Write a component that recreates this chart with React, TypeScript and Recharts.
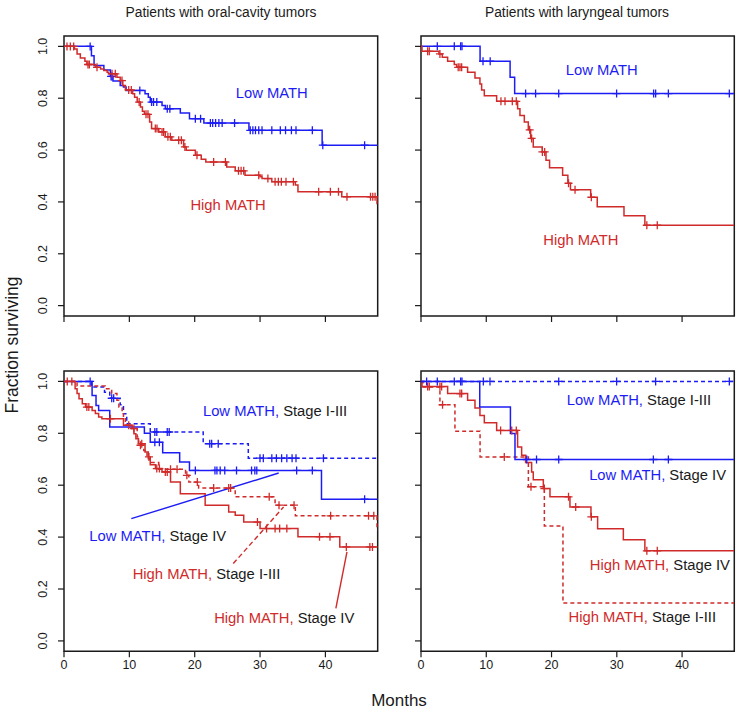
import React from 'react';
import {
  ComposedChart,
  Line,
  Scatter,
  XAxis,
  YAxis,
  ReferenceArea,
  ReferenceLine,
  ReferenceDot,
} from 'recharts';

const BLUE = '#1c1cf5';
const RED = '#d02a2a';
const INK = '#1a1a1a';
const FONT = '"Liberation Sans", Arial, Helvetica, sans-serif';

const monthTicks = [0, 10, 20, 30, 40];
const survTicks = [0, 0.2, 0.4, 0.6, 0.8, 1.0];

type Step = [number, number];

// Oral cavity, all stages
const oralLowSteps: Step[] = [
  [0, 1], [4.2, 0.964], [4.6, 0.926], [6.1, 0.909], [7.1, 0.884], [7.5, 0.866], [8.6, 0.849],
  [9.1, 0.843], [9.5, 0.83], [12.4, 0.817], [12.9, 0.804], [13.2, 0.785], [15.0, 0.772],
  [15.5, 0.759], [17.8, 0.743], [19.2, 0.721], [21.4, 0.704], [28.3, 0.676], [39.5, 0.619], [48, 0.619],
];
const oralLowCensor = [
  4.0, 7.2, 7.35, 11.6, 13.4, 13.7, 14.2, 15.8, 16.2, 20.1, 20.9, 22.4, 22.75, 23.2, 23.7, 24.2,
  26.1, 28.5, 28.9, 29.3, 29.8, 30.3, 31.8, 33.1, 33.9, 34.8, 35.5, 38.0, 39.6, 46.0,
];
const oralHighSteps: Step[] = [
  [0, 1], [1.6, 0.99], [2.0, 0.971], [2.5, 0.955], [3.2, 0.943], [3.5, 0.93], [4.8, 0.919],
  [5.6, 0.913], [6.1, 0.907], [6.6, 0.9], [6.8, 0.894], [8.1, 0.881], [8.6, 0.868], [9.0, 0.849],
  [9.4, 0.832], [10.5, 0.817], [10.8, 0.804], [11.2, 0.785], [11.7, 0.766], [12.0, 0.75],
  [12.3, 0.738], [13.1, 0.708], [13.4, 0.683], [14.5, 0.67], [15.5, 0.651], [16.5, 0.638],
  [18.3, 0.612], [18.7, 0.599], [20.1, 0.58], [21.0, 0.565], [21.7, 0.554], [24.9, 0.535],
  [26.2, 0.52], [27.7, 0.503], [30.0, 0.497], [30.3, 0.49], [31.8, 0.478], [35.4, 0.465],
  [35.8, 0.439], [42.5, 0.42], [47.9, 0.394], [48, 0.394],
];
const oralHighCensor = [
  0.46, 0.97, 1.48, 3.67, 3.88, 5.05, 7.35, 7.85, 8.87, 9.9, 10.3, 11.5, 12.55, 12.85, 13.97,
  14.23, 15.0, 15.25, 15.9, 16.27, 17.55, 17.96, 18.5, 20.35, 22.9, 24.7, 26.7, 27.1, 27.5, 29.8,
  31.2, 32.3, 32.8, 33.26, 33.97, 35.1, 38.97, 40.76, 42.0, 43.3, 46.9, 47.25, 47.6,
];

// Larynx, all stages
const larLowSteps: Step[] = [[0, 1], [9.05, 0.943], [13.65, 0.881], [14.35, 0.818], [48, 0.818]];
const larLowCensor = [2.5, 5.1, 6.07, 6.28, 9.5, 10.6, 16.03, 17.56, 21.1, 29.97, 35.64, 35.95, 37.9, 47.24];
const larHighSteps: Step[] = [
  [0, 1], [0.15, 0.981], [2.75, 0.971], [3.26, 0.958], [4.08, 0.943], [5.1, 0.93], [5.46, 0.919],
  [7.14, 0.9], [8.27, 0.878], [9.03, 0.855], [9.29, 0.832], [9.7, 0.81], [11.59, 0.788],
  [14.8, 0.759], [15.16, 0.733], [15.83, 0.708], [16.44, 0.678], [16.8, 0.645], [17.2, 0.612],
  [18.58, 0.593], [19.15, 0.561], [19.7, 0.532], [21.7, 0.503], [22.5, 0.472], [22.9, 0.447],
  [26.0, 0.418], [27.0, 0.381], [31.1, 0.347], [34.3, 0.31], [48, 0.31],
];
const larHighCensor = [
  1.02, 1.27, 2.9, 5.7, 5.97, 6.23, 12.25, 12.87, 13.99, 14.6, 16.65, 16.95, 18.6, 18.95, 22.6,
  23.6, 26.1, 34.6, 36.2,
];

// Oral cavity, by stage
const oralLowEarlySteps: Step[] = [
  [0, 1], [4.2, 0.978], [6.2, 0.958], [7.0, 0.935], [8.6, 0.91], [9.1, 0.875], [9.6, 0.837],
  [13.2, 0.805], [21.3, 0.76], [28.2, 0.704], [48, 0.704],
];
const oralLowEarlyCensor = [
  7.3, 7.6, 13.9, 14.2, 15.8, 16.1, 22.3, 22.6, 23.6, 29.99, 30.5, 31.8, 32.5, 33.3, 34.1, 34.9,
  35.5, 39.7,
];
const oralLowLateSteps: Step[] = [
  [0, 1], [4.3, 0.946], [4.9, 0.907], [5.3, 0.888], [7.0, 0.824], [12.3, 0.8], [13.2, 0.765],
  [15.1, 0.725], [17.7, 0.689], [19.2, 0.657], [39.4, 0.546], [48, 0.546],
];
const oralLowLateCensor = [
  4.0, 13.9, 14.6, 20.1, 23.1, 23.4, 23.9, 24.6, 26.4, 28.7, 29.2, 29.5, 35.6, 38.0, 46.0,
];
const oralHighEarlySteps: Step[] = [
  [0, 1], [2.0, 0.982], [6.3, 0.972], [7.3, 0.953], [8.1, 0.927], [8.4, 0.901], [8.9, 0.882],
  [9.1, 0.856], [9.4, 0.831], [10.4, 0.818], [11.2, 0.786], [11.4, 0.754], [12.2, 0.734],
  [12.7, 0.709], [13.2, 0.687], [14.5, 0.661], [18.6, 0.638], [19.1, 0.612], [20.6, 0.589],
  [26.2, 0.555], [32.3, 0.523], [35.4, 0.482], [47.9, 0.427], [48, 0.427],
];
const oralHighEarlyCensor = [
  0.5, 1.2, 10.7, 11.7, 13.0, 16.3, 17.3, 18.8, 20.4, 22.9, 25.2, 25.5, 31.4, 32.9, 35.2, 40.8,
  46.6, 47.4,
];
const oralHighLateSteps: Step[] = [
  [0, 1], [1.7, 0.972], [2.0, 0.953], [2.3, 0.933], [2.8, 0.914], [3.3, 0.901], [4.3, 0.888],
  [4.8, 0.876], [5.3, 0.863], [5.8, 0.856], [9.1, 0.831], [10.4, 0.818], [10.7, 0.798],
  [11.0, 0.779], [11.4, 0.76], [12.4, 0.728], [12.9, 0.702], [13.2, 0.679], [14.0, 0.664],
  [15.0, 0.651], [16.3, 0.612], [17.8, 0.567], [21.6, 0.523], [25.2, 0.497], [26.2, 0.484],
  [27.5, 0.458], [30.0, 0.433], [35.8, 0.401], [42.2, 0.362], [48, 0.362],
];
const oralHighLateCensor = [
  3.5, 3.8, 7.1, 9.9, 11.9, 14.2, 14.6, 15.5, 15.8, 29.6, 31.0, 32.3, 33.0, 34.1, 39.1, 40.7,
  43.2, 46.8, 47.2,
];

// Larynx, by stage
const larLowEarlySteps: Step[] = [[0, 1], [48, 1]];
const larLowEarlyCensor = [0.86, 2.5, 5.1, 6.07, 6.28, 9.55, 10.57, 21.1, 29.97, 35.95, 47.24];
const larLowLateSteps: Step[] = [[0, 1], [9.0, 0.901], [13.7, 0.799], [14.4, 0.699], [48, 0.699]];
const larLowLateCensor = [16.2, 17.7, 21.1, 35.6, 37.9];
const larHighEarlySteps: Step[] = [
  [0, 1], [0.3, 0.978], [2.9, 0.91], [5.2, 0.808], [9.05, 0.709], [16.45, 0.594], [18.9, 0.443],
  [21.75, 0.146], [48, 0.146],
];
const larHighEarlyCensor = [3.3, 12.76, 16.85];
const larHighLateSteps: Step[] = [
  [0, 1], [0.15, 0.98], [4.08, 0.953], [7.14, 0.927], [8.27, 0.897], [9.03, 0.869], [9.7, 0.841],
  [11.59, 0.811], [14.8, 0.747], [15.42, 0.715], [16.03, 0.687], [16.95, 0.651], [17.2, 0.621],
  [18.74, 0.587], [19.76, 0.555], [22.82, 0.516], [26.04, 0.478], [27.06, 0.432], [31.0, 0.39],
  [34.3, 0.347], [48, 0.347],
];
const larHighLateCensor = [
  1.02, 1.27, 2.9, 3.16, 5.97, 6.23, 12.2, 13.9, 14.6, 18.9, 22.6, 23.7, 26.1, 34.6, 36.2,
];

type Curve = { steps: Step[]; censor: number[]; color: string; dashed?: boolean };
type Part = { text: string; color: string };
type CurveLabel = { x: number; y: number; parts: Part[] };
type Leader = { from: [number, number]; to: [number, number]; color: string; dashed?: boolean };

function levelAt(steps: Step[], t: number) {
  let v = steps[0][1];
  for (const [x, y] of steps) {
    if (x <= t) v = y;
    else break;
  }
  return v;
}

const XTick = (p: any) => (
  <text x={p.x} y={p.y} dy={10} textAnchor="middle" fontSize={12.5} fill={INK} fontFamily={FONT}>
    {p.payload.value}
  </text>
);
const YTick = (p: any) => (
  <text
    x={p.x}
    y={p.y}
    transform={`rotate(-90 ${p.x} ${p.y})`}
    textAnchor="middle"
    fontSize={12.5}
    fill={INK}
    fontFamily={FONT}
  >
    {Number(p.payload.value).toFixed(1)}
  </text>
);
const NoTick = () => <g />;

const censorMark = (color: string) => (p: any) => (
  <g stroke={color} strokeWidth={1.3}>
    <line x1={p.cx} x2={p.cx} y1={p.cy - 4} y2={p.cy + 4} />
    <line x1={p.cx - 4} x2={p.cx + 4} y1={p.cy} y2={p.cy} />
  </g>
);

const textMark = (parts: Part[]) => (p: any) => (
  <text x={p.cx} y={p.cy} dy="0.36em" textAnchor="middle" fontSize={14.8} fontFamily={FONT}>
    {parts.map((pt, i) => (
      <tspan key={i} fill={pt.color}>
        {pt.text}
      </tspan>
    ))}
  </text>
);

type Box = { x: number; y: number; w: number; h: number };

function Panel({
  box,
  curves,
  labels,
  leaders = [],
  xLabels,
  yLabels,
}: {
  box: Box;
  curves: Curve[];
  labels: CurveLabel[];
  leaders?: Leader[];
  xLabels: boolean;
  yLabels: boolean;
}) {
  const W = 50 + box.w + 5;
  const H = 5 + box.h + 30;
  return (
    <div style={{ position: 'absolute', left: box.x - 50, top: box.y - 5 }}>
      <ComposedChart width={W} height={H} margin={{ top: 5, right: 5, bottom: 0, left: 0 }}>
        <XAxis
          type="number"
          dataKey="x"
          domain={[0, 48]}
          ticks={monthTicks}
          allowDataOverflow
          axisLine={false}
          tickLine={{ stroke: INK, strokeWidth: 1.2 }}
          tickSize={6}
          tickMargin={2}
          height={30}
          tick={xLabels ? XTick : NoTick}
        />
        <YAxis
          type="number"
          dataKey="y"
          domain={[-0.04, 1.04]}
          ticks={survTicks}
          allowDataOverflow
          axisLine={false}
          tickLine={{ stroke: INK, strokeWidth: 1.2 }}
          tickSize={6}
          tickMargin={11}
          width={50}
          tick={yLabels ? YTick : NoTick}
        />
        <ReferenceArea
          x1={0}
          x2={48}
          y1={-0.04}
          y2={1.04}
          fill="none"
          stroke={INK}
          strokeWidth={1.5}
          ifOverflow="visible"
        />
        {curves.map((c, i) => (
          <Line
            key={'l' + i}
            data={c.steps.map(([x, y]) => ({ x, y }))}
            dataKey="y"
            type="stepAfter"
            stroke={c.color}
            strokeWidth={1.5}
            strokeDasharray={c.dashed ? '4 3' : undefined}
            dot={false}
            activeDot={false}
            isAnimationActive={false}
          />
        ))}
        {curves.map((c, i) => (
          <Scatter
            key={'s' + i}
            data={c.censor.map((t) => ({ x: t, y: levelAt(c.steps, t) }))}
            dataKey="y"
            shape={censorMark(c.color)}
            isAnimationActive={false}
          />
        ))}
        {leaders.map((l, i) => (
          <ReferenceLine
            key={'r' + i}
            segment={[
              { x: l.from[0], y: l.from[1] },
              { x: l.to[0], y: l.to[1] },
            ]}
            stroke={l.color}
            strokeWidth={1.4}
            strokeDasharray={l.dashed ? '5 3' : undefined}
            ifOverflow="visible"
          />
        ))}
        {labels.map((lb, i) => (
          <ReferenceDot key={'t' + i} x={lb.x} y={lb.y} r={1} shape={textMark(lb.parts)} />
        ))}
      </ComposedChart>
    </div>
  );
}

const lowText = { text: 'Low MATH', color: BLUE };
const highText = { text: 'High MATH', color: RED };
const lowComma = { text: 'Low MATH,', color: BLUE };
const highComma = { text: 'High MATH,', color: RED };
const early = { text: ' Stage I-III', color: INK };
const late = { text: ' Stage IV', color: INK };

export default function App() {
  return (
    <div
      style={{
        position: 'absolute',
        left: 0,
        top: 0,
        width: 737,
        height: 711,
        background: '#fff',
        fontFamily: FONT,
      }}
    >
      <Panel
        box={{ x: 64, y: 35.7, w: 313.7, h: 280 }}
        xLabels={false}
        yLabels
        curves={[
          { steps: oralLowSteps, censor: oralLowCensor, color: BLUE },
          { steps: oralHighSteps, censor: oralHighCensor, color: RED },
        ]}
        labels={[
          { x: 31.8, y: 0.821, parts: [lowText] },
          { x: 25.1, y: 0.388, parts: [highText] },
        ]}
      />
      <Panel
        box={{ x: 420.7, y: 35.7, w: 313.3, h: 280 }}
        xLabels={false}
        yLabels={false}
        curves={[
          { steps: larLowSteps, censor: larLowCensor, color: BLUE },
          { steps: larHighSteps, censor: larHighCensor, color: RED },
        ]}
        labels={[
          { x: 27.7, y: 0.909, parts: [lowText] },
          { x: 24.5, y: 0.254, parts: [highText] },
        ]}
      />
      <Panel
        box={{ x: 64, y: 370.7, w: 313.7, h: 280.3 }}
        xLabels
        yLabels
        curves={[
          { steps: oralLowEarlySteps, censor: oralLowEarlyCensor, color: BLUE, dashed: true },
          { steps: oralLowLateSteps, censor: oralLowLateCensor, color: BLUE },
          { steps: oralHighEarlySteps, censor: oralHighEarlyCensor, color: RED, dashed: true },
          { steps: oralHighLateSteps, censor: oralHighLateCensor, color: RED },
        ]}
        leaders={[
          { from: [10.3, 0.471], to: [32.85, 0.647], color: BLUE },
          { from: [25.9, 0.298], to: [33.6, 0.516], color: RED, dashed: true },
          { from: [41.6, 0.125], to: [43.3, 0.343], color: RED },
        ]}
        labels={[
          { x: 32.3, y: 0.888, parts: [lowComma, early] },
          { x: 14.35, y: 0.404, parts: [lowComma, late] },
          { x: 21.8, y: 0.259, parts: [highComma, early] },
          { x: 33.7, y: 0.091, parts: [highComma, late] },
        ]}
      />
      <Panel
        box={{ x: 420.7, y: 370.7, w: 313.3, h: 280.3 }}
        xLabels
        yLabels={false}
        curves={[
          { steps: larHighEarlySteps, censor: larHighEarlyCensor, color: RED, dashed: true },
          { steps: larHighLateSteps, censor: larHighLateCensor, color: RED },
          { steps: larLowLateSteps, censor: larLowLateCensor, color: BLUE },
          { steps: larLowEarlySteps, censor: larLowEarlyCensor, color: BLUE, dashed: true },
        ]}
        labels={[
          { x: 33.4, y: 0.931, parts: [lowComma, early] },
          { x: 36.25, y: 0.641, parts: [lowComma, late] },
          { x: 36.6, y: 0.294, parts: [highComma, late] },
          { x: 33.9, y: 0.092, parts: [highComma, early] },
        ]}
      />
      <svg
        width={737}
        height={711}
        style={{ position: 'absolute', left: 0, top: 0, pointerEvents: 'none' }}
      >
        <text x={221} y={17} textAnchor="middle" fontSize={13.8} fill={INK} fontFamily={FONT}>
          Patients with oral-cavity tumors
        </text>
        <text x={577} y={17} textAnchor="middle" fontSize={13.8} fill={INK} fontFamily={FONT}>
          Patients with laryngeal tumors
        </text>
        <text
          x={18}
          y={345}
          transform="rotate(-90 18 345)"
          textAnchor="middle"
          fontSize={17.5}
          fill={INK}
          fontFamily={FONT}
        >
          Fraction surviving
        </text>
        <text x={399} y={706} textAnchor="middle" fontSize={17} fill={INK} fontFamily={FONT}>
          Months
        </text>
      </svg>
    </div>
  );
}
